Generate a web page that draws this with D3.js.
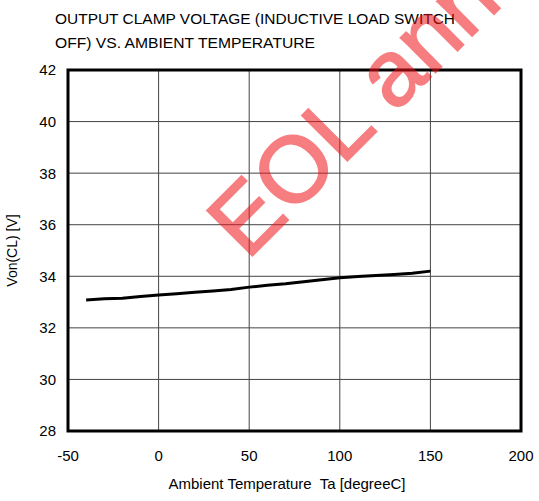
<html>
<head>
<title>Output clamp voltage vs. ambient temperature</title>
<script src="https://cdn.jsdelivr.net/npm/d3@7"></script>
<style>
  body { margin: 0; background: #fff; }
  text { font-family: "Liberation Sans", Arial, sans-serif; fill: #000; }
</style>
</head>
<body>
<div id="container"></div>
<script>
// data
var temps = [-40, -30, -20, -10, 0, 10, 20, 30, 40, 50, 60, 70, 80, 90, 100, 110, 120, 130, 140, 150];
var vonCL = [33.08, 33.13, 33.15, 33.22, 33.27, 33.32, 33.38, 33.43, 33.49, 33.58, 33.65, 33.71, 33.79, 33.87, 33.94, 33.99, 34.03, 34.07, 34.12, 34.2];
var xTicks = [-50, 0, 50, 100, 150, 200];
var yTicks = [28, 30, 32, 34, 36, 38, 40, 42];
var titleLines = ["OUTPUT CLAMP VOLTAGE (INDUCTIVE LOAD SWITCH", "OFF) VS. AMBIENT TEMPERATURE"];

function createGraph() {
  var width = 539, height = 501;
  var pLeft = 68, pRight = 521, pTop = 70, pBottom = 431;

  var svg = d3.select("#container").append("svg")
    .attr("width", width)
    .attr("height", height);

  var x = d3.scaleLinear().domain([-50, 200]).range([pLeft, pRight]);
  var y = d3.scaleLinear().domain([28, 42]).range([pBottom, pTop]);

  // title
  svg.append("text").attr("x", 55).attr("y", 24).attr("font-size", 15)
    .attr("textLength", 400).attr("lengthAdjust", "spacingAndGlyphs")
    .text(titleLines[0]);
  svg.append("text").attr("x", 55).attr("y", 48).attr("font-size", 15)
    .attr("textLength", 260).attr("lengthAdjust", "spacingAndGlyphs")
    .text(titleLines[1]);

  // grid
  svg.append("g")
    .selectAll("line")
    .data(xTicks.slice(1, -1))
    .enter().append("line")
    .attr("x1", function(d) { return x(d); })
    .attr("x2", function(d) { return x(d); })
    .attr("y1", pTop).attr("y2", pBottom)
    .attr("stroke", "#444").attr("stroke-width", 1);
  svg.append("g")
    .selectAll("line")
    .data(yTicks.slice(1, -1))
    .enter().append("line")
    .attr("y1", function(d) { return y(d); })
    .attr("y2", function(d) { return y(d); })
    .attr("x1", pLeft).attr("x2", pRight)
    .attr("stroke", "#444").attr("stroke-width", 1);

  // frame
  svg.append("rect")
    .attr("x", pLeft).attr("y", pTop)
    .attr("width", pRight - pLeft).attr("height", pBottom - pTop)
    .attr("fill", "none").attr("stroke", "#000").attr("stroke-width", 3);

  // tick labels
  svg.append("g").selectAll("text")
    .data(xTicks)
    .enter().append("text")
    .attr("x", function(d) { return x(d); })
    .attr("y", 461)
    .attr("font-size", 15)
    .attr("text-anchor", "middle")
    .text(function(d) { return d; });
  svg.append("g").selectAll("text")
    .data(yTicks)
    .enter().append("text")
    .attr("x", 56)
    .attr("y", function(d) { return y(d); })
    .attr("dy", "0.36em")
    .attr("font-size", 15)
    .attr("text-anchor", "end")
    .text(function(d) { return d; });

  // axis titles
  svg.append("text")
    .attr("x", 287).attr("y", 489)
    .attr("font-size", 15)
    .attr("text-anchor", "middle")
    .attr("xml:space", "preserve")
    .style("white-space", "pre")
    .text("Ambient Temperature  Ta [degreeC]");
  svg.append("text")
    .attr("transform", "translate(17," + ((pTop + pBottom) / 2) + ") rotate(-90)")
    .attr("font-size", 14)
    .attr("text-anchor", "middle")
    .text("Von(CL) [V]");

  // curve
  var data = temps.map(function(t, i) { return {t: t, v: vonCL[i]}; });
  var line = d3.line()
    .x(function(d) { return x(d.t); })
    .y(function(d) { return y(d.v); });
  svg.append("path")
    .datum(data)
    .attr("d", line)
    .attr("fill", "none")
    .attr("stroke", "#000")
    .attr("stroke-width", 3);

  // EOL watermark
  svg.append("text")
    .attr("transform", "translate(247,261) rotate(-45)")
    .attr("font-size", 93)
    .style("fill", "rgb(240,20,25)")
    .style("stroke", "rgb(240,20,25)")
    .style("stroke-width", 2)
    .style("opacity", 0.55)
    .text("EOL announced");
}
createGraph();
</script>
</body>
</html>
